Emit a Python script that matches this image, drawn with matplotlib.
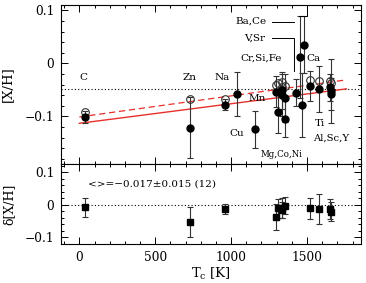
import matplotlib
matplotlib.use("Agg")
import matplotlib.pyplot as plt
from matplotlib.ticker import MultipleLocator

plt.rcParams["font.family"] = ["DejaVu Serif"]
plt.rcParams["mathtext.fontset"] = "dejavuserif"

# condensation temperatures and abundances, filled symbols
tc_all = [40, 726, 958, 1037, 1158, 1296, 1310, 1334, 1336, 1352, 1353,
          1429, 1455, 1464, 1478, 1517, 1582, 1653, 1659, 1659]
xh_all = [-0.101, -0.121, -0.078, -0.058, -0.124, -0.053, -0.091, -0.051, -0.060, -0.104, -0.065,
          -0.055, 0.012, -0.079, 0.035, -0.042, -0.048, -0.045, -0.058, -0.052]
err_all = [0.012, 0.058, 0.010, 0.042, 0.035, 0.030, 0.040, 0.035, 0.040, 0.035, 0.045,
           0.025, 0.077, 0.060, 0.054, 0.028, 0.043, 0.025, 0.030, 0.060]

# reference (open symbols)
tc_ref = [40, 726, 958, 1296, 1310, 1334, 1336, 1353, 1517, 1582, 1653, 1659]
xh_ref = [-0.092, -0.067, -0.068, -0.040, -0.037, -0.035, -0.045, -0.042, -0.032, -0.034, -0.034, -0.037]

# differences (bottom panel)
d_xh = [-0.008, -0.052, -0.013, -0.038, -0.011, -0.016, -0.010, -0.003, -0.010, -0.013, -0.013, -0.021]
d_err = [0.028, 0.046, 0.015, 0.040, 0.030, 0.025, 0.030, 0.026, 0.032, 0.045, 0.030, 0.030]

# linear fits (end points)
fit_t = [0, 1760]
fit_all = [-0.113, -0.048]
fit_ref = [-0.101, -0.031]
mean_level = -0.048

labels = ["C", "Zn", "Na", "Mn", "Cu", "Mg,Co,Ni", "Cr,Si,Fe", "V,Sr", "Ba,Ce", "Ca", "Ti", "Al,Sc,Y"]
label_t = [26, 724, 939, 1169, 1038, 1329, 1197, 1156, 1134, 1540, 1588, 1660]
label_y = [-0.026, -0.026, -0.026, -0.067, -0.132, -0.172, 0.009, 0.048, 0.079, 0.009, -0.113, -0.141]
label_fs = [7.5, 7.5, 7.5, 7.5, 7.5, 6.2, 7.5, 7.5, 7.5, 7.5, 7.5, 7.2]

fig = plt.figure(figsize=(3.66, 2.83), dpi=100)
ax1 = fig.add_axes([0.167, 0.420, 0.819, 0.562])
ax2 = fig.add_axes([0.167, 0.138, 0.819, 0.282], sharex=ax1)

red = "#e8302c"
ax1.axhline(mean_level, color="k", ls=(0, (1, 2)), lw=0.8)
ax1.plot(fit_t, fit_all, color=red, lw=1.0)
ax1.plot(fit_t, fit_ref, color=red, lw=0.9, ls=(0, (5, 3)))
ax1.errorbar(tc_all, xh_all, yerr=err_all, fmt="none", ecolor="#333333", elinewidth=0.8,
             capsize=2.5, capthick=0.8)
ax1.plot(tc_ref, xh_ref, "o", mfc="none", mec="#333333", mew=0.8, ms=5.5)
ax1.plot(tc_all, xh_all, "o", color="k", ms=5)

for lab, t, y, fs in zip(labels, label_t, label_y, label_fs):
    ax1.text(t, y, lab, ha="center", va="center", fontsize=fs)

# leader lines
ax1.plot([1270, 1413], [0.078, 0.078], color="k", lw=0.7)
ax1.plot([1270, 1413, 1413], [0.047, 0.047, -0.015], color="k", lw=0.7)
ax1.plot([1446, 1500, 1500], [0.089, 0.089, 0.12], color="k", lw=0.7)

ax1.set_xlim(-120, 1855)
ax1.set_ylim(-0.19, 0.11)
ax1.set_ylabel("[X/H]", fontsize=9.5)
ax1.yaxis.set_minor_locator(MultipleLocator(0.02))
ax1.set_yticks([-0.1, 0, 0.1])
ax1.set_yticklabels(["\u22120.1", "0", "0.1"])
plt.setp(ax1.get_xticklabels(), visible=False)

ax2.axhline(0, color="k", ls=(0, (1, 2)), lw=0.8)
ax2.errorbar(tc_ref, d_xh, yerr=d_err, fmt="s", color="k", ms=4.5, ecolor="#333333",
             elinewidth=0.8, capsize=2.5, capthick=0.8)
ax2.text(59, 0.065, "<>=\u22120.017\u00b10.015 (12)", ha="left", va="center", fontsize=7.5)
ax2.set_ylim(-0.12, 0.125)
ax2.set_ylabel("\u03b4[X/H]", fontsize=9)
ax2.set_xlabel(r"T$_\mathrm{c}$ [K]", fontsize=9.5)
ax2.set_yticks([-0.1, 0, 0.1])
ax2.set_yticklabels(["\u22120.1", "0", "0.1"])
ax2.yaxis.set_minor_locator(MultipleLocator(0.02))
ax2.xaxis.set_major_locator(MultipleLocator(500))
ax2.xaxis.set_minor_locator(MultipleLocator(100))

for ax in (ax1, ax2):
    ax.tick_params(which="both", direction="in", top=True, right=True, labelsize=8.8,
                   width=0.7, pad=5)
    ax.tick_params(which="major", length=5)
    ax.tick_params(which="minor", length=2.5)
    for s in ax.spines.values():
        s.set_linewidth(0.8)

ax1.yaxis.set_label_coords(-0.158, 0.5)
ax2.yaxis.set_label_coords(-0.152, 0.5)
ax2.xaxis.set_label_coords(0.5, -0.27)

fig.savefig("out.png", dpi=100)
